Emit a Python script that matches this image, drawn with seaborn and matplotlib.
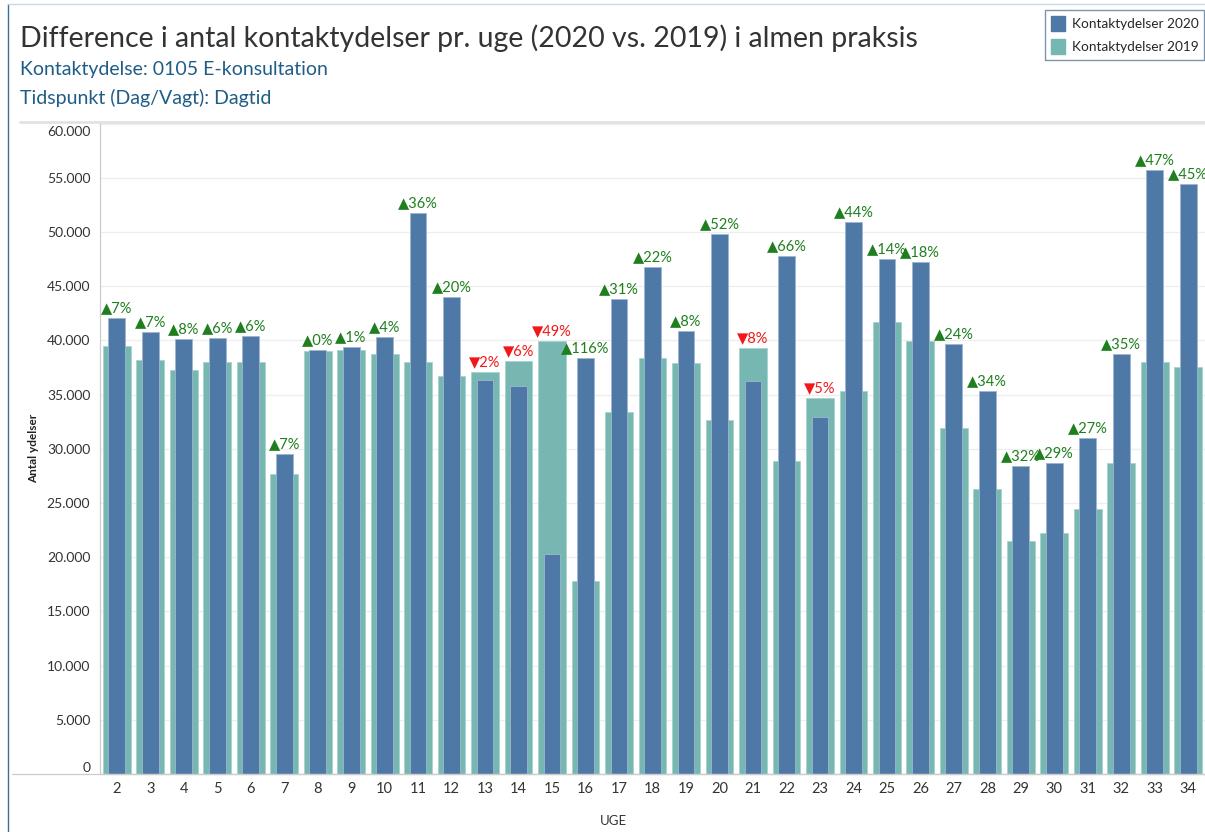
import matplotlib
matplotlib.use("Agg")
import matplotlib.pyplot as plt
import matplotlib.transforms as mtransforms
from matplotlib.lines import Line2D
from matplotlib.patches import Patch
import seaborn as sns
import pandas as pd

# data
weeks = list(range(2, 35))
kontakt_2020 = [42070, 40750, 40130, 40220, 40440, 29490, 39110, 39420, 40340, 51780,
                44030, 36350, 35830, 20300, 38410, 43820, 46800, 40870, 49790, 36250,
                47820, 32960, 50890, 47510, 47200, 39640, 35330, 28440, 28660, 31020,
                38710, 55720, 54400]
kontakt_2019 = [39510, 38190, 37270, 37980, 37980, 27650, 39020, 39110, 38710, 37980,
                36750, 37060, 38100, 39940, 17780, 33370, 38410, 37890, 32660, 39330,
                28870, 34720, 35330, 41670, 39940, 31950, 26290, 21490, 22200, 24450,
                28660, 37980, 37570]
pct_change = [7, 7, 8, 6, 6, 7, 0, 1, 4, 36, 20, -2, -6, -49, 116, 31, 22, 8, 52, -8,
              66, -5, 44, 14, 18, 24, 34, 32, 29, 27, 35, 47, 45]

BLUE = "#4e79a7"
TEAL = "#76b7b2"
GREEN = "#1f7f1f"
RED = "#f01818"
FONT = ["Lato", "DejaVu Sans"]

df = pd.DataFrame({"UGE": weeks, "y2020": kontakt_2020, "y2019": kontakt_2019})

sns.set_theme(style="white")
plt.rcParams["font.family"] = FONT

W, H = 1205, 832
fig = plt.figure(figsize=(W / 100, H / 100), dpi=100)
ax = fig.add_axes([100 / W, 58 / H, 1105 / W, 652 / H])

sns.barplot(data=df, x="UGE", y="y2019", color=TEAL, width=0.83, saturation=1,
            edgecolor="#a9d3cf", linewidth=0.6, ax=ax)
sns.barplot(data=df, x="UGE", y="y2020", color=BLUE, width=0.5, saturation=1,
            edgecolor="#9fb5d0", linewidth=0.6, ax=ax)

# percent labels above the taller bar
for i, (b, t, p) in enumerate(zip(kontakt_2020, kontakt_2019, pct_change)):
    top = max(b, t)
    if p >= 0:
        txt, col = f"\u25b2{p}%", GREEN
    else:
        txt, col = f"\u25bc{abs(p)}%", RED
    ax.annotate(txt, (i, top), xytext=(0, 2), textcoords="offset points",
                ha="center", va="bottom", fontsize=10.5, color=col,
                family=FONT, annotation_clip=False)

ax.set_xlim(-0.5, 32.36)
ax.set_ylim(0, 60150)
yt = list(range(0, 60001, 5000))
ax.set_yticks(yt)
ax.set_yticklabels([f"{v:,}".replace(",", ".") for v in yt])
ax.yaxis.grid(True, color="#eeeeee", linewidth=0.9)
ax.set_axisbelow(True)
ax.tick_params(axis="y", length=0, pad=7, labelsize=10, labelcolor="#333333")
ax.tick_params(axis="x", length=0, pad=6, labelsize=10.5, labelcolor="#333333")
ax.set_xticks(range(len(weeks)), [str(w) for w in weeks])
ax.set_xticks([i + 0.5 for i in range(-1, len(weeks))], minor=True)
ax.tick_params(axis="x", which="minor", length=4, color="#dddddd", width=0.8)

# nudge the end labels like the reference (0 sits above, 60.000 below the line)
labels = ax.get_yticklabels()
labels[0].set_transform(labels[0].get_transform() +
                        mtransforms.ScaledTranslation(0, 7 / 100, fig.dpi_scale_trans))
labels[-1].set_transform(labels[-1].get_transform() +
                         mtransforms.ScaledTranslation(0, -7 / 100, fig.dpi_scale_trans))

for s in ["top", "right"]:
    ax.spines[s].set_visible(False)
ax.spines["left"].set_color("#cccccc")
ax.spines["bottom"].set_color("#cccccc")
ax.spines["left"].set_linewidth(0.9)
ax.spines["bottom"].set_linewidth(0.9)

ax.set_ylabel("Antal ydelser", fontsize=8.5, fontweight="bold", color="#222222")
ax.yaxis.set_label_coords(-61 / 1105, 0.5)
ax.set_xlabel("UGE", fontsize=9.5, color="#333333")
ax.xaxis.set_label_coords((613 - 100) / 1105, -41 / 652)

# dashboard frame lines
fig.add_artist(Line2D([12 / W, 1], [58 / H, 58 / H], color="#cccccc", lw=0.9))
fig.add_artist(Line2D([20 / W, 1], [1 - 122 / H, 1 - 122 / H], color="#e2e2e2", lw=2))
fig.add_artist(Line2D([8 / W, 8 / W], [0, 1 - 4 / H], color="#3d6f99", lw=1))
fig.add_artist(Line2D([8 / W, 1], [1 - 4 / H, 1 - 4 / H], color="#c9d9e6", lw=1))

fig.text(20 / W, 1 - 38 / H,
         "Difference i antal kontaktydelser pr. uge (2020 vs. 2019) i almen praksis",
         fontsize=20.5, color="#333333", va="center", ha="left")
fig.text(20 / W, 1 - 69 / H, "Kontaktydelse: 0105 E-konsultation",
         fontsize=14, color="#1f5d87", va="center", ha="left")
fig.text(20 / W, 1 - 98 / H, "Tidspunkt (Dag/Vagt): Dagtid",
         fontsize=14, color="#1f5d87", va="center", ha="left")

handles = [Patch(facecolor=BLUE, edgecolor=BLUE, label="Kontaktydelser 2020"),
           Patch(facecolor=TEAL, edgecolor=TEAL, label="Kontaktydelser 2019")]
leg = fig.legend(handles=handles, loc="upper left", bbox_to_anchor=(1045 / W, 1 - 10 / H),
                 fontsize=9.8, frameon=True, fancybox=False, handlelength=1.0,
                 handleheight=1.3, handletextpad=0.5, borderpad=0.45, labelspacing=0.6,
                 borderaxespad=0)
leg.get_frame().set_edgecolor("#5b7b96")
leg.get_frame().set_linewidth(1)

fig.savefig("out.png", dpi=100)
